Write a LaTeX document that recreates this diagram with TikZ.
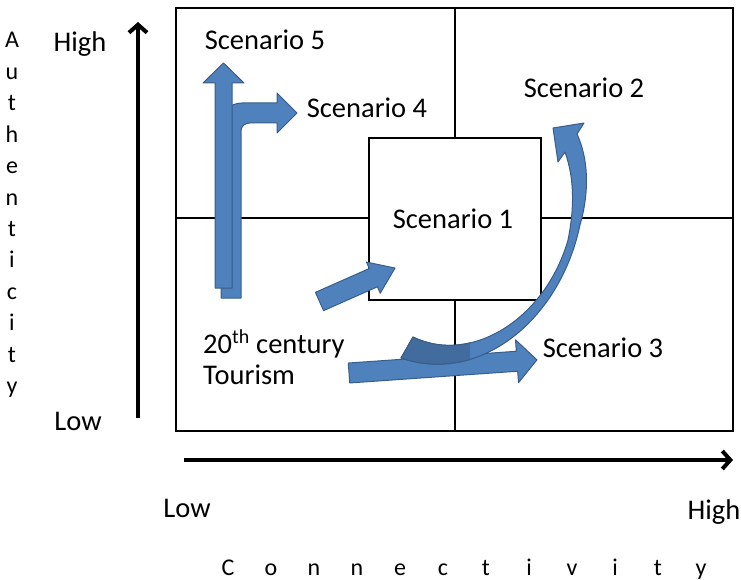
\documentclass[tikz,border=0pt]{standalone}
\usepackage{fontspec}
\setmainfont{Carlito}
\usetikzlibrary{arrows.meta}
\definecolor{arrowblue}{RGB}{79,129,189}
\definecolor{arrowedge}{RGB}{56,93,138}
\definecolor{arrowdark}{RGB}{66,107,158}
% straight block arrow: [style](tail)(angle:length:shaft half width:head half width:head length)
\def\blockarrow[#1](#2)(#3:#4:#5:#6:#7){\draw[#1,shift={(#2)},rotate=#3] (0,-#5) -- ({#4-#7},-#5) -- ({#4-#7},-#6) -- (#4,0) -- ({#4-#7},#6) -- ({#4-#7},#5) -- (0,#5) -- cycle;}
% outline of the curved arrow
\def\curvedarrow{(401,358) .. controls (480,385) and (560,320) .. (580,225) .. controls (590,190) and (588,158) .. (577,134) -- (584,123) -- (553,128) -- (558,162) -- (565,152) .. controls (575,180) and (574,210) .. (568,240) .. controls (545,320) and (470,365) .. (413,337) -- cycle}

\begin{document}
\begin{tikzpicture}[x=1pt,y=-1pt,
	lbl/.style={font=\fontsize{28.5}{32}\selectfont, inner sep=0pt, anchor=base},
	axisletter/.style={font=\fontsize{24}{28}\selectfont, inner sep=0pt, anchor=base},
	blockarrow/.style={fill=arrowblue, draw=arrowedge, line width=1pt, line join=round},
	axis/.style={line width=4pt, -{Straight Barb[length=8pt,width=18pt]}}]
		\useasboundingbox (0,0) rectangle (741,580);
		
		%%%%% quadrants %%%%%
		\draw[line width=2.6pt] (176,8) rectangle (733,431);
		\draw[line width=2.6pt] (455,8) -- (455,431);
		\draw[line width=2.6pt] (176,218) -- (733,218);
		\node[draw, line width=2.6pt, fill=white, minimum width=172pt, minimum height=162pt, inner sep=0pt] (box) at (455,219) {};
		
		%%%%% axes %%%%%
		\coordinate (ybot) at (138,418);
		\coordinate (ytop) at (138,22);
		\draw[axis] (ybot) -- (ytop);
		\coordinate (xlft) at (184,460);
		\coordinate (xrgt) at (733,460);
		\draw[axis] (xlft) -- (xrgt);
		
		\node[lbl] (yhigh) at (80,52) {High};
		\node[lbl] (ylow) at (78,430) {Low};
		\node[lbl] (xlow) at (187,517) {Low};
		\node[lbl] (xhigh) at (714,519) {High};
		
		\foreach \ch [count=\i from 0] in {A,u,t,h,e,n,t,i,c,i,t,y}
			\node[axisletter] (auth\i) at (12,{48+31.4*\i}) {\ch};
		\foreach \ch [count=\i from 0] in {C,o,n,n,e,c,t,i,v,i,t,y}
			\node[axisletter] (conn\i) at ({228+43*\i},575) {\ch};
		
		%%%%% block arrows %%%%%
		% bent arrow to scenario 4
		\draw[blockarrow] (221,298) -- (221,124) .. controls (221,112) and (230,103) .. (242,103) -- (277,103) -- (277,93) -- (297,113) -- (277,133) -- (277,123) -- (250,123) .. controls (245,123) and (241,126) .. (241,131) -- (241,298) -- cycle;
		% up arrow to scenario 5
		\blockarrow[blockarrow](223.5,288)(90:225:8.5:20.5:20)
		% into scenario 1
		\blockarrow[blockarrow](319.5,301.5)(23.9:82.6:10:17:23.7)
		% to scenario 3
		\blockarrow[blockarrow](349,373)(4:188.4:10:21.5:20)
		% curved arrow to scenario 2, darker at its tail
		\draw[blockarrow] \curvedarrow;
		\begin{scope}
			\clip (390,320) rectangle (470,390);
			\draw[blockarrow, fill=arrowdark] \curvedarrow;
		\end{scope}
		
		%%%%% labels %%%%%
		\node[lbl] (s1) at (453,228) {Scenario 1};
		\node[lbl] (s2) at (584,98) {Scenario 2};
		\node[lbl] (s3) at (603,357) {Scenario 3};
		\node[lbl] (s4) at (367,118) {Scenario 4};
		\node[lbl] (s5) at (265,50) {Scenario 5};
		\node[lbl, anchor=base west] (c20) at (203,353) {20\textsuperscript{th} century};
		\node[lbl, anchor=base west] (tour) at (203,384) {Tourism};
		
	\end{tikzpicture}
\end{document}
